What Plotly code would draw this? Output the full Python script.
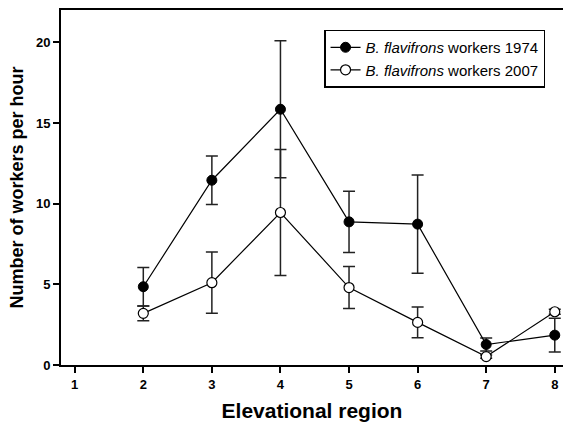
import plotly.graph_objects as go

regions = [2, 3, 4, 5, 6, 7, 8]
workers_1974 = [4.85, 11.45, 15.85, 8.87, 8.73, 1.27, 1.85]
err_1974 = [1.2, 1.5, 4.25, 1.9, 3.05, 0.4, 1.05]
workers_2007 = [3.2, 5.1, 9.45, 4.8, 2.64, 0.52, 3.3]
err_2007 = [0.45, 1.9, 3.9, 1.3, 0.95, 0.1, 0.15]

x_ticks = [1, 2, 3, 4, 5, 6, 7, 8]
y_ticks = [0, 5, 10, 15, 20]

fig = go.Figure()
fig.add_trace(go.Scatter(
    x=regions, y=workers_1974, mode="lines+markers",
    name="<i>B. flavifrons</i> workers 1974",
    line=dict(color="black", width=1.2),
    marker=dict(symbol="circle", size=10, color="black", line=dict(color="black", width=1)),
    error_y=dict(type="data", array=err_1974, visible=True, color="#222", thickness=1.5, width=6),
))
fig.add_trace(go.Scatter(
    x=regions, y=workers_2007, mode="lines+markers",
    name="<i>B. flavifrons</i> workers 2007",
    line=dict(color="black", width=1.2),
    marker=dict(symbol="circle", size=10, color="white", line=dict(color="black", width=1.2)),
    error_y=dict(type="data", array=err_2007, visible=True, color="#222", thickness=1.5, width=6),
))

fig.update_layout(
    width=563, height=423,
    margin=dict(l=61, r=0, t=10, b=58),
    paper_bgcolor="white", plot_bgcolor="white",
    font=dict(family="Liberation Sans, Arial", color="black"),
    showlegend=True,
    legend=dict(
        x=0.524, y=0.945, xanchor="left", yanchor="top",
        bordercolor="black", borderwidth=1.5, bgcolor="white",
        font=dict(size=15, color="black"),
        tracegroupgap=0, itemwidth=30,
    ),
    xaxis=dict(
        range=[0.8, 8.12], tickvals=x_ticks, ticktext=[str(v) for v in x_ticks],
        showgrid=False, zeroline=False,
        showline=True, linecolor="black", linewidth=1.8, mirror=True,
        ticks="outside", ticklen=6, tickwidth=1.5, tickcolor="black",
        tickfont=dict(size=13, weight="bold"),
        title=dict(text="Elevational region", font=dict(size=21, weight="bold"), standoff=13),
    ),
    yaxis=dict(
        range=[0, 22], tickvals=y_ticks, ticktext=[str(v) for v in y_ticks],
        showgrid=False, zeroline=False,
        showline=True, linecolor="black", linewidth=1.8, mirror=False,
        ticks="outside", ticklen=6, tickwidth=1.5, tickcolor="black",
        tickfont=dict(size=13, weight="bold"),
        title=dict(text="Number of workers per hour", font=dict(size=18, weight="bold"), standoff=8),
    ),
)

fig.write_html("out.html")
